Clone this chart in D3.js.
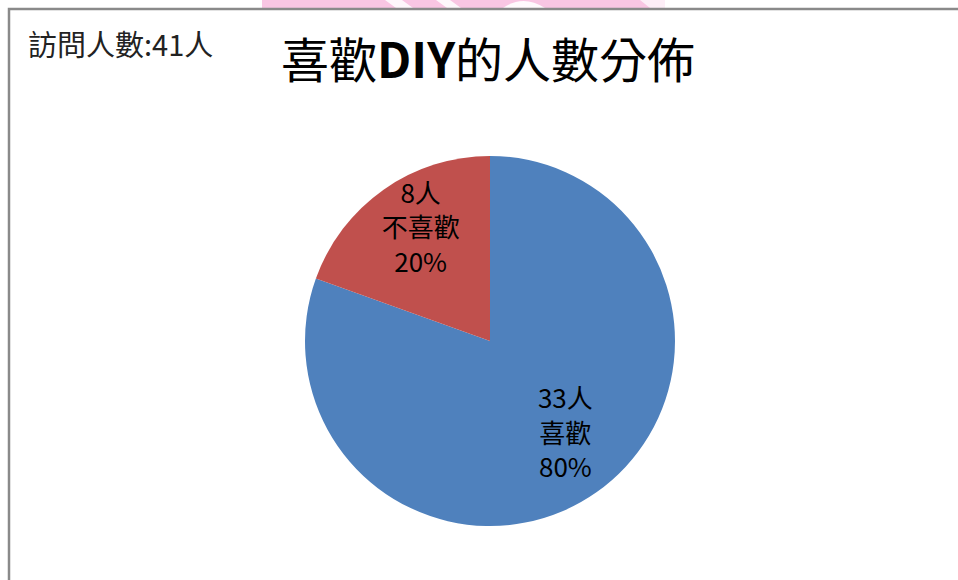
<!DOCTYPE html>
<html>
<head>
<meta charset="utf-8">
<script src="https://cdn.jsdelivr.net/npm/d3@7/dist/d3.min.js"></script>
<style>
  html, body { margin: 0; padding: 0; background: #fff; }
  svg { display: block; }
</style>
</head>
<body>
<svg id="chart" width="958" height="580"></svg>
<script>
// ---- data ----
const categories = ["喜歡", "不喜歡"];
const counts = [33, 8];
const unit = "人";
const titleParts = ["喜歡", "DIY", "的人數分佈"];
const totalPrefix = "訪問人數:";

// ---- styles ----
const colors = ["#4F81BD", "#C0504D"];
const W = 958, H = 580;
const cx = 490, cy = 341, R = 185;
const font = "'Noto Sans CJK TC', 'Noto Sans CJK SC', 'Noto Sans', sans-serif";

const svg = d3.select("#chart");

// faint pink watermark strip above the frame
const wm = svg.append("g");
wm.append("rect").attr("x", 262).attr("y", 0).attr("width", 403).attr("height", 8).attr("fill", "#f9c6e3");
[[385, 402, 396, 413], [436, 450, 447, 461]].forEach(([a, b, c, d]) => {
  wm.append("polygon").attr("points", `${a},0 ${b},0 ${d},8 ${c},8`).attr("fill", "#fff").attr("opacity", 0.85);
});
wm.append("path").attr("d", "M503,8 Q523,-6 545,8 Z").attr("fill", "#fff").attr("opacity", 0.9);
wm.append("polygon").attr("points", "640,0 665,0 665,8 650,8").attr("fill", "#fff").attr("opacity", 0.7);

// chart frame (extends beyond right/bottom of view)
svg.append("rect")
  .attr("x", 9).attr("y", 9)
  .attr("width", W + 20).attr("height", H + 20)
  .attr("fill", "none")
  .attr("stroke", "#8a8a8a")
  .attr("stroke-width", 2.5);

// title
const title = svg.append("text")
  .attr("x", 488).attr("y", 78)
  .attr("text-anchor", "middle")
  .attr("font-family", font)
  .attr("font-size", 48)
  .attr("fill", "#000");
titleParts.forEach((t, i) => {
  title.append("tspan").text(t).attr("font-weight", i === 1 ? "bold" : "normal");
});

// total label
const total = d3.sum(counts);
svg.append("text")
  .attr("x", 28).attr("y", 56)
  .attr("font-family", font)
  .attr("font-size", 29)
  .attr("fill", "#222")
  .text(totalPrefix + total + unit);

// pie
const pie = d3.pie().sort(null).value(d => d);
const arcs = pie(counts);
const arc = d3.arc().innerRadius(0).outerRadius(R);
const labelArc = d3.arc().innerRadius(R * 0.68).outerRadius(R * 0.68);

const g = svg.append("g").attr("transform", `translate(${cx},${cy})`);
g.selectAll("path.slice")
  .data(arcs)
  .join("path")
  .attr("class", "slice")
  .attr("d", arc)
  .attr("fill", (d, i) => colors[i]);

const fs = 26, lh = 34.5;
arcs.forEach((d, i) => {
  const [lx, ly] = labelArc.centroid(d);
  const pct = Math.round(d.value / total * 100) + "%";
  const lines = [d.value + unit, categories[i], pct];
  const t = g.append("text")
    .attr("text-anchor", "middle")
    .attr("font-family", font)
    .attr("font-size", fs)
    .attr("fill", "#000");
  lines.forEach((s, k) => {
    t.append("tspan")
      .attr("x", lx + 3)
      .attr("y", ly - 10 + (k - 1) * lh + fs * 0.35)
      .text(s);
  });
});
</script>
</body>
</html>
